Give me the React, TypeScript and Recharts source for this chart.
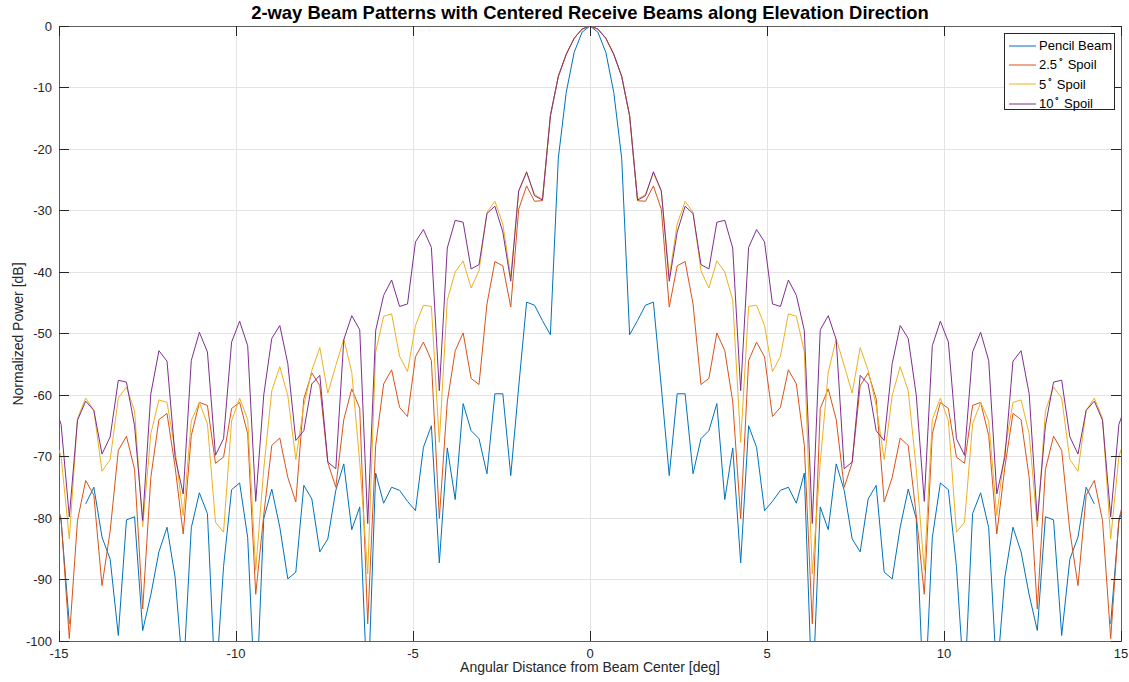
import React from "react";
import {
  LineChart,
  Line,
  XAxis,
  YAxis,
  CartesianGrid,
  Legend,
  ReferenceArea,
} from "recharts";

// One-sided beam patterns in dB, sample k sits at asin(k / 256) degrees.
// The pattern is symmetric, so the negative side mirrors these values.
// null = -Inf in the source data (gap in the trace).
const pencilBeam = [
  0, -1.0, -4.3, -10.8, -21.5, -50.2, -47.9, -45.4, -44.9, -58.7,
  -73.1, -59.8, -59.8, -72.8, -67.1, -65.8, -61.4, -77.0, -68.6, -87.3,
  -65.0, -68.5, -78.8, -77.3, -75.5, -75.0, -77.6, -72.7, -110, -78.2,
  -81.9, -71.2, -75.5, -83.4, -85.5, -76.9, -74.7, -88.8, -89.9, -81.5,
  -75.3, -80.1, -112, -83.2, -74.3, -75.4, -87.9, -108, -79.3, -75.9,
  -81.6, -106, -89.6, -81.5, -85.5, -92.5, -98.3, -79.8, -80.3, -99.1,
  -86.7, -83.1, -75.0, -77.7, null, -97.2, -80.5, -76,
];

const spoil2p5 = [
  0, -0.5, -2.0, -4.6, -8.2, -14.6, -28.4, -28.5, -26.0, -29.8,
  -45.7, -39.0, -38.3, -45.2, -58.3, -57.3, -49.9, -52.8, -61.1, -80.1,
  -54.4, -51.4, -53.8, -63.5, -62.0, -55.9, -58.2, -68.2, -97.2, -62.2,
  -59.0, -64.0, -75.0, -71.0, -58.5, -56.4, -60.6, -77.4, -73.4, -67.0,
  -68.2, -79.5, -92.4, -66.3, -61.2, -62.2, -70.1, -71.1, -61.7, -61.2,
  -66.6, -82.6, -71.7, -63.0, -64.0, -73.4, -94.8, -72.1, -66.7, -69.0,
  -82.1, -91.0, -76.3, -73.9, -80.4, -99.6, -80.2, -75,
];

const spoil5 = [
  0, -0.5, -2.0, -4.6, -8.2, -14.6, -28.2, -27.4, -23.9, -26.9,
  -40.8, -32.2, -28.5, -30.3, -39.8, -42.6, -38.2, -40.0, -44.6, -67.7,
  -45.6, -45.4, -48.7, -56.2, -53.7, -46.8, -47.2, -53.0, -89.1, -71.0,
  -56.3, -50.9, -55.2, -59.7, -52.3, -56.0, -61.7, -70.5, -60.1, -55.4,
  -59.3, -72.0, -88.5, -64.0, -60.5, -64.2, -82.3, -80.7, -64.7, -61.2,
  -64.2, -79.6, -69.0, -61.2, -60.8, -66.3, -81.4, -62.6, -58.7, -60.5,
  -70.5, -72.4, -62.5, -60.5, -63.8, -83.4, -70.0, -66,
];

const spoil10 = [
  0, -0.5, -2.0, -4.6, -8.2, -14.6, -28.3, -27.6, -23.7, -26.8,
  -41.5, -33.5, -29.3, -30.5, -38.8, -39.5, -31.9, -31.6, -36.1, -59.3,
  -36.0, -33.1, -35.1, -45.2, -45.6, -41.3, -43.8, -49.5, -80.9, -49.4,
  -47.1, -51.0, -72.0, -70.9, -56.8, -58.2, -65.8, -67.4, -54.9, -48.7,
  -50.8, -60.0, -77.3, -52.0, -48.0, -51.4, -67.1, -69.8, -53.0, -49.8,
  -54.4, -76.1, -70.1, -54.5, -52.8, -59.8, -80.4, -65.0, -57.9, -57.6,
  -66.8, -69.6, -62.5, -61.0, -64.1, -79.8, -64.8, -61,
];

const xTicks = [-15, -10, -5, 0, 5, 10, 15];
const yTicks = [0, -10, -20, -30, -40, -50, -60, -70, -80, -90, -100];

const series = [
  { key: "pencil", name: "Pencil Beam", color: "#0072BD" },
  { key: "s2p5", name: "2.5° Spoil", color: "#D95319" },
  { key: "s5", name: "5° Spoil", color: "#EDB120" },
  { key: "s10", name: "10° Spoil", color: "#7E2F8E" },
];

const W = 1129;
const H = 682;
const PLOT = { left: 59, right: 1121, top: 26, bottom: 641 };
const TICK_LEN = 10;
const AXIS_COLOR = "#262626";
const FONT = '"Liberation Sans", Arial, Helvetica, sans-serif';

const buildRows = () => {
  const last = pencilBeam.length - 1;
  const rows = [];
  for (let k = -last; k <= last; k++) {
    const i = Math.abs(k);
    rows.push({
      angle: (Math.asin(k / 256) * 180) / Math.PI,
      pencil: pencilBeam[i],
      s2p5: spoil2p5[i],
      s5: spoil5[i],
      s10: spoil10[i],
    });
  }
  return rows;
};

const data = buildRows();

// MATLAB-style inward ticks on both sides of the box
const XTick = ({ x, payload }: any) => (
  <g>
    <line x1={x} x2={x} y1={PLOT.bottom} y2={PLOT.bottom - TICK_LEN} stroke={AXIS_COLOR} shapeRendering="crispEdges" />
    <line x1={x} x2={x} y1={PLOT.top} y2={PLOT.top + TICK_LEN} stroke={AXIS_COLOR} shapeRendering="crispEdges" />
    <text x={x} y={PLOT.bottom + 16.5} textAnchor="middle" fontSize={13} fill={AXIS_COLOR} fontFamily={FONT}>
      {payload.value}
    </text>
  </g>
);

const YTick = ({ y, payload }: any) => (
  <g>
    <line x1={PLOT.left} x2={PLOT.left + TICK_LEN} y1={y} y2={y} stroke={AXIS_COLOR} shapeRendering="crispEdges" />
    <line x1={PLOT.right} x2={PLOT.right - TICK_LEN} y1={y} y2={y} stroke={AXIS_COLOR} shapeRendering="crispEdges" />
    <text x={PLOT.left - 7} y={y + 4.5} textAnchor="end" fontSize={13} fill={AXIS_COLOR} fontFamily={FONT}>
      {payload.value}
    </text>
  </g>
);

// "2.5° Spoil" -> 2.5 with a raised degree mark
const renderName = (name: string) => {
  const parts = name.split("°");
  if (parts.length < 2) return name;
  return (
    <>
      {parts[0]}
      <span style={{ fontSize: 9, position: "relative", top: -6, marginLeft: 1 }}>∘</span>
      {parts[1]}
    </>
  );
};

const BeamLegend = () => (
  <div
    style={{
      width: 111,
      height: 77,
      border: `1px solid ${AXIS_COLOR}`,
      background: "#fff",
      boxSizing: "border-box",
      padding: "2px 0 0 3px",
      fontFamily: FONT,
      fontSize: 13,
      color: "#000",
    }}
  >
    {series.map((s) => (
      <div key={s.key} style={{ display: "flex", alignItems: "center", height: 19.3 }}>
        <svg width={31} height={10} style={{ flex: "none" }}>
          <line x1={1} x2={28} y1={5} y2={5} stroke={s.color} strokeWidth={1} />
        </svg>
        <span style={{ whiteSpace: "nowrap" }}>{renderName(s.name)}</span>
      </div>
    ))}
  </div>
);

export default function App() {
  return (
    <div style={{ position: "absolute", left: 0, top: 0, width: W, height: H, background: "#fff", fontFamily: FONT }}>
      <div
        style={{
          position: "absolute",
          left: PLOT.left,
          width: PLOT.right - PLOT.left,
          top: 2,
          lineHeight: "22px",
          textAlign: "center",
          fontWeight: "bold",
          fontSize: 18.4,
          color: "#000",
        }}
      >
        2-way Beam Patterns with Centered Receive Beams along Elevation Direction
      </div>
      <LineChart width={W} height={H} data={data} margin={{ top: PLOT.top, right: W - PLOT.right, bottom: 0, left: 0 }}>
        <CartesianGrid stroke="#e3e3e3" strokeWidth={1} shapeRendering="crispEdges" />
        <XAxis
          type="number"
          dataKey="angle"
          domain={[-15, 15]}
          ticks={xTicks}
          allowDataOverflow
          height={H - PLOT.bottom}
          tickLine={false}
          axisLine={false}
          tickSize={0}
          tick={<XTick />}
          interval={0}
        />
        <YAxis
          type="number"
          domain={[-100, 0]}
          ticks={yTicks}
          allowDataOverflow
          width={PLOT.left}
          tickLine={false}
          axisLine={false}
          tickSize={0}
          tick={<YTick />}
          interval={0}
        />
        {series.map((s) => (
          <Line
            key={s.key}
            type="linear"
            dataKey={s.key}
            name={s.name}
            stroke={s.color}
            strokeWidth={1}
            dot={false}
            activeDot={false}
            isAnimationActive={false}
          />
        ))}
        <ReferenceArea
          x1={-15}
          x2={15}
          y1={-100}
          y2={0}
          fill="none"
          stroke={AXIS_COLOR}
          strokeWidth={1}
          strokeOpacity={0.7}
          shapeRendering="crispEdges"
        />
        <Legend
          layout="vertical"
          align="center"
          verticalAlign="middle"
          content={<BeamLegend />}
          wrapperStyle={{ left: 1004, top: 33, width: 111, height: 77 }}
        />
      </LineChart>
      <div
        style={{
          position: "absolute",
          left: PLOT.left,
          width: PLOT.right - PLOT.left,
          top: 660,
          lineHeight: "14px",
          textAlign: "center",
          fontSize: 14,
          color: AXIS_COLOR,
        }}
      >
        Angular Distance from Beam Center [deg]
      </div>
      <div
        style={{
          position: "absolute",
          left: 18,
          top: (PLOT.top + PLOT.bottom) / 2,
          transform: "translate(-50%, -50%) rotate(-90deg)",
          whiteSpace: "nowrap",
          fontSize: 14,
          color: AXIS_COLOR,
        }}
      >
        Normalized Power [dB]
      </div>
    </div>
  );
}
